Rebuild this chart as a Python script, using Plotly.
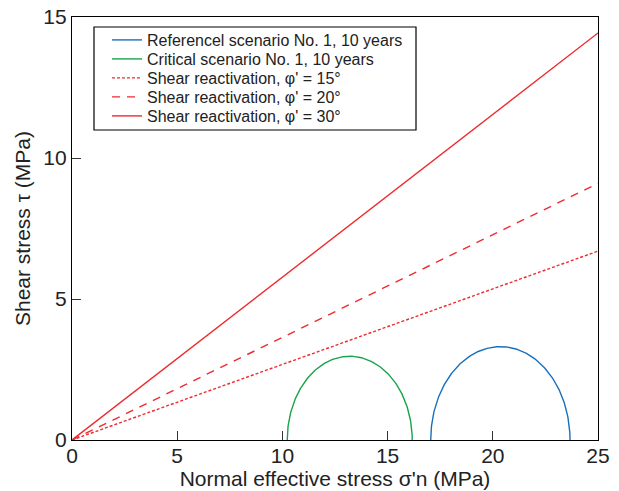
import numpy as np
import plotly.graph_objects as go

# Data
friction_angles_deg = [15, 20, 30]
friction_names = ["Shear reactivation, φ' = 15°",
                  "Shear reactivation, φ' = 20°",
                  "Shear reactivation, φ' = 30°"]
friction_dash = ["3px,2px", "8px,7px", "solid"]
sigma_range = [0, 25]

circle_names = ["Referencel scenario No. 1, 10 years", "Critical scenario No. 1, 10 years"]
sigma3 = [17.05, 10.23]   # MPa
sigma1 = [23.67, 16.17]   # MPa
circle_colors = ["#1a6fbd", "#19a34a"]

x_ticks = [0, 5, 10, 15, 20, 25]
y_ticks = [0, 5, 10, 15]

RED = "#ee2b2f"
FONT = "Liberation Sans, Arial, sans-serif"
TXT = "#222"

# plot-area geometry (pixels) for paper-coordinate placement of legend
L, R, T, B = 72, 598, 17, 440
W, H = R - L, B - T
def px(x): return (x - L) / W
def py(y): return (B - y) / H

legend_ids = ["legend", "legend2", "legend3", "legend4", "legend5"]
legend_rows_px = [40, 59, 78, 97, 116]

fig = go.Figure()

k = 0
for name, s3, s1, col in zip(circle_names, sigma3, sigma1, circle_colors):
    c = (s1 + s3) / 2
    r = (s1 - s3) / 2
    t = np.linspace(np.pi, 0, 181)
    fig.add_trace(go.Scatter(x=c + r * np.cos(t), y=r * np.sin(t), mode="lines",
                             name=name, legend=legend_ids[k],
                             line=dict(color=col, width=1.4)))
    k += 1

for ang, name, dash in zip(friction_angles_deg, friction_names, friction_dash):
    xs = np.array(sigma_range, dtype=float)
    ys = xs * np.tan(np.radians(ang))
    fig.add_trace(go.Scatter(x=xs, y=ys, mode="lines", name=name, legend=legend_ids[k],
                             line=dict(color=RED, width=1.4, dash=dash)))
    k += 1

axis_common = dict(showline=True, linecolor="black", linewidth=1.2, mirror=True,
                   ticks="inside", ticklen=9, tickwidth=1.2, tickcolor="#333",
                   showgrid=False, zeroline=False, automargin=False,
                   tickfont=dict(family=FONT, size=21, color=TXT))

legend_style = dict(xanchor="left", yanchor="middle", borderwidth=0,
                    bgcolor="rgba(0,0,0,0)",
                    font=dict(family=FONT, size=16, color=TXT),
                    itemwidth=30)

layout_legends = {}
for lid, rowy in zip(legend_ids, legend_rows_px):
    layout_legends[lid] = dict(x=px(107), y=py(rowy), **legend_style)

fig.update_layout(
    width=619, height=491,
    margin=dict(l=L, r=619 - R, t=T, b=491 - B),
    paper_bgcolor="white", plot_bgcolor="white",
    font=dict(family=FONT, color=TXT),
    xaxis=dict(range=[0, 25], tickvals=x_ticks, ticklabelstandoff=-3,
               title=dict(text="Normal effective stress σ'n (MPa)",
                          font=dict(family=FONT, size=21, color=TXT), standoff=4),
               **axis_common),
    yaxis=dict(range=[0, 15], tickvals=y_ticks, ticklabelstandoff=0,
               title=dict(text="Shear stress τ (MPa)",
                          font=dict(family=FONT, size=21, color=TXT), standoff=6),
               **axis_common),
    shapes=[dict(type="rect", xref="paper", yref="paper",
                 x0=px(94), x1=px(416), y0=py(130), y1=py(27),
                 line=dict(color="black", width=1.2), fillcolor="white", layer="below")],
    showlegend=True,
    **layout_legends,
)

fig.write_html("out.html")
